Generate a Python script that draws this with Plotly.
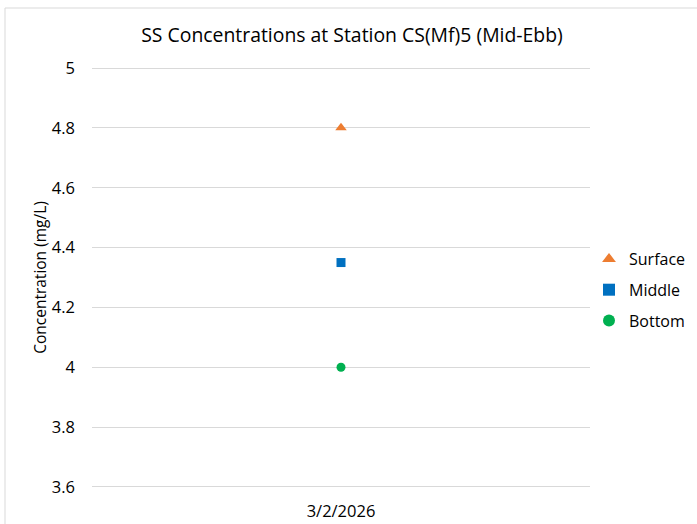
import plotly.graph_objects as go

dates = ["3/2/2026"]
surface = [4.8]
middle = [4.35]
bottom = [4.0]
y_ticks = [3.6, 3.8, 4.0, 4.2, 4.4, 4.6, 4.8, 5.0]
y_tick_labels = ["3.6", "3.8", "4", "4.2", "4.4", "4.6", "4.8", "5"]

W, H = 697, 524
L, R, T, B = 92, 107, 66, 35
pw, ph = W - L - R, H - T - B
y_pad = 0.0067

font_family = "Open Sans, Liberation Sans, sans-serif"

fig = go.Figure()
fig.add_trace(go.Scatter(x=dates, y=surface, mode="markers", name="Surface", legendgroup="s",
                         marker=dict(symbol="triangle-up", size=10, color="#ED7D31")))
fig.add_trace(go.Scatter(x=dates, y=middle, mode="markers", name="Middle", legendgroup="m",
                         marker=dict(symbol="square", size=9, color="#0070C0")))
fig.add_trace(go.Scatter(x=dates, y=bottom, mode="markers", name="Bottom", legendgroup="b",
                         marker=dict(symbol="circle", size=9, color="#00B050")))

fig.update_layout(
    width=W, height=H,
    margin=dict(l=L, r=R, t=T, b=B, autoexpand=False),
    paper_bgcolor="white", plot_bgcolor="white",
    font=dict(family=font_family, size=16, color="#000000"),
    title=dict(text="SS Concentrations at Station CS(Mf)5 (Mid-Ebb)",
               x=352 / W, xanchor="center", y=1 - 35 / H, yanchor="middle",
               font=dict(size=19.4, family=font_family, color="#000000")),
    xaxis=dict(type="category", range=[-0.5, 0.5], showgrid=False, showline=False,
               zeroline=False, ticks="", tickfont=dict(size=16.5), ticklabelstandoff=10),
    yaxis=dict(range=[min(y_ticks) - y_pad, max(y_ticks) + y_pad], tickvals=y_ticks,
               ticktext=y_tick_labels,
               showgrid=True, gridcolor="#D9D9D9", gridwidth=1, zeroline=False,
               showline=False, ticks="", ticklabelstandoff=16,
               title=dict(text="Concentration (mg/L)", font=dict(size=15.5), standoff=1),
               tickfont=dict(size=16.5)),
    legend=dict(x=(589 - L) / pw, xanchor="left", y=(H - B - 290) / ph, yanchor="middle",
                font=dict(size=16), itemsizing="constant", tracegroupgap=7,
                traceorder="grouped", bgcolor="rgba(0,0,0,0)"),
    showlegend=True,
)

fig.add_shape(type="rect", xref="paper", yref="paper",
              x0=(5 - L) / pw, x1=(W + 20 - L) / pw,
              y0=(H - B - (H + 20)) / ph, y1=(H - B - 8) / ph,
              line=dict(color="#D9D9D9", width=1), fillcolor="rgba(0,0,0,0)", layer="below")

fig.write_html("out.html", config={"displayModeBar": False},
               post_script="document.body.style.margin='0';")
